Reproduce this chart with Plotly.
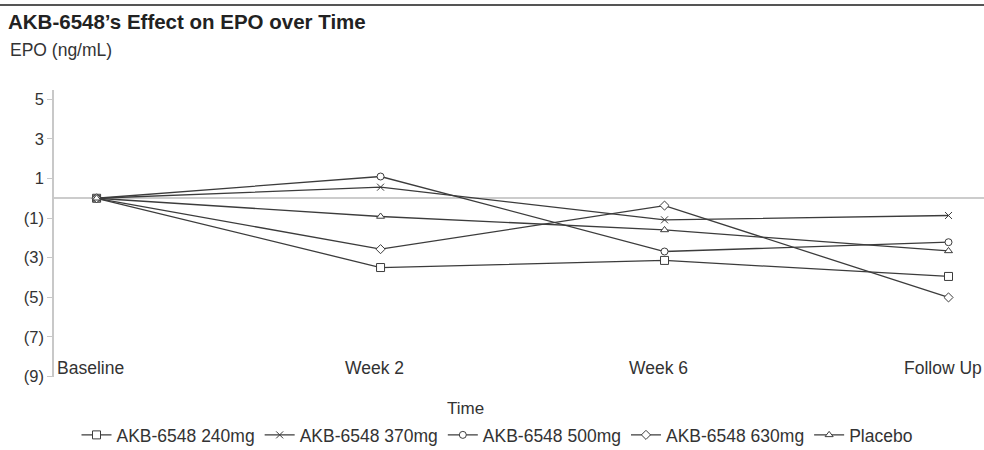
import plotly.graph_objects as go

categories = ["Baseline", "Week 2", "Week 6", "Follow Up"]
series_names = ["AKB-6548 240mg", "AKB-6548 370mg", "AKB-6548 500mg", "AKB-6548 630mg", "Placebo"]
epo_240 = [0.0, -3.50, -3.14, -3.95]
epo_370 = [0.0, 0.56, -1.09, -0.87]
epo_500 = [0.0, 1.10, -2.69, -2.22]
epo_630 = [0.0, -2.57, -0.37, -5.01]
epo_placebo = [0.0, -0.92, -1.60, -2.66]
y_tick_vals = [5, 3, 1, -1, -3, -5, -7, -9]
y_tick_text = ["5", "3", "1", "(1)", "(3)", "(5)", "(7)", "(9)"]

series_values = [epo_240, epo_370, epo_500, epo_630, epo_placebo]
symbols = ["square", "x-thin", "circle", "diamond", "triangle-up"]
sizes = [8, 7, 7, 7, 7]

LINE = "#3c3c3c"
TEXT = "#333333"
FONT = "Liberation Sans, Arial, sans-serif"
FS = 17

x_idx = list(range(len(categories)))

fig = go.Figure()
for name, vals, sym, sz in zip(series_names, series_values, symbols, sizes):
    fig.add_trace(go.Scatter(
        x=x_idx, y=vals, name=name, mode="lines+markers",
        line=dict(color=LINE, width=1.3),
        marker=dict(symbol=sym, size=sz, color="white" if sym != "x-thin" else LINE,
                    line=dict(color=LINE, width=1)),
    ))

PT, PB = 90, 377  # plot top / bottom in px
PH = PB - PT
PL = 54
PW = 984 - PL

fig.update_layout(
    width=984, height=450,
    margin=dict(l=PL, r=0, t=PT, b=450 - PB),
    paper_bgcolor="white", plot_bgcolor="white",
    font=dict(family=FONT, size=FS, color=TEXT),
    title=dict(text="<b>AKB-6548’s Effect on EPO over Time</b>",
               x=8/984, xanchor="left", xref="container",
               y=1-22/450, yanchor="middle", yref="container",
               font=dict(family=FONT, size=20.5, color="#222222")),
    showlegend=True,
    legend=dict(orientation="h", x=(497-PL)/PW, xanchor="center", xref="paper",
                y=1-435/450, yanchor="middle", yref="container",
                font=dict(family=FONT, size=17.5, color=TEXT),
                itemwidth=30, tracegroupgap=0),
    xaxis=dict(range=[-0.15, 3.125], tickmode="array", tickvals=x_idx,
               showticklabels=False, showline=False, showgrid=False, zeroline=False,
               ticks=""),
    yaxis=dict(range=[-9.03, 5.47], tickmode="array", tickvals=y_tick_vals, ticktext=y_tick_text,
               showgrid=False, zeroline=True, zerolinecolor="#cccccc", zerolinewidth=2,
               showline=True, linecolor="#c8c8c8", linewidth=1.5,
               ticks="outside", ticklen=5, tickcolor="#c8c8c8",
               tickfont=dict(size=16.5, color=TEXT)),
)

# category labels sit inside the plot, along its bottom edge
for i, cat in zip(x_idx, categories):
    fig.add_annotation(text=cat, x=i, xref="x", y=(PB-368)/PH, yref="paper",
                       xanchor="center", yanchor="middle", xshift=-6,
                       showarrow=False, font=dict(family=FONT, size=17.5, color=TEXT))

fig.add_annotation(text="EPO (ng/mL)", xref="paper", yref="paper",
                   x=(8-PL)/PW, y=1 + (PT-50)/PH, xanchor="left", yanchor="middle",
                   showarrow=False, font=dict(family=FONT, size=17.5, color=TEXT))
fig.add_annotation(text="Time", xref="paper", yref="paper",
                   x=(465-PL)/PW, y=(PB-408)/PH, xanchor="center", yanchor="middle",
                   showarrow=False, font=dict(family=FONT, size=17, color=TEXT))
fig.add_shape(type="line", xref="paper", yref="paper",
              x0=-PL/PW, x1=1, y0=1 + (PT-5)/PH, y1=1 + (PT-5)/PH,
              line=dict(color="#555555", width=2))

fig.write_html("out.html", config={"displayModeBar": False},
               post_script="document.body.style.margin='0';")
